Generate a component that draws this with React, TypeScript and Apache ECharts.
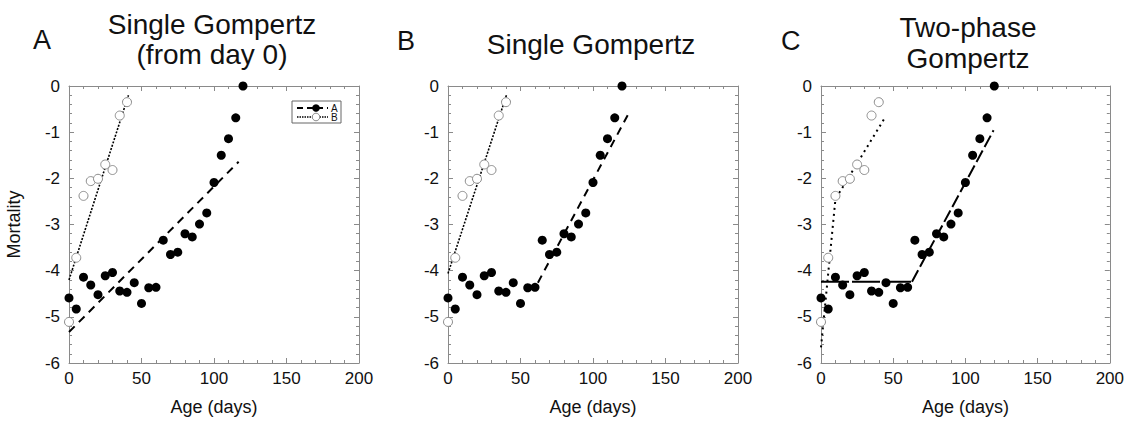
import React, { useEffect, useRef } from "react";
import * as echarts from "echarts";

// ---- data ----
const ages = [0, 5, 10, 15, 20, 25, 30, 35, 40, 45, 50, 55, 60, 65, 70, 75, 80, 85, 90, 95, 100, 105, 110, 115, 120];
const mortA = [-4.59, -4.83, -4.14, -4.31, -4.52, -4.11, -4.04, -4.44, -4.47, -4.26, -4.71, -4.37, -4.36, -3.34, -3.65, -3.6, -3.2, -3.27, -2.99, -2.75, -2.09, -1.5, -1.14, -0.69, 0];
const agesB = [0, 5, 10, 15, 20, 25, 30, 35, 40];
const mortB = [-5.11, -3.72, -2.38, -2.06, -2.01, -1.7, -1.82, -0.64, -0.35];

// fitted lines
const fitPanelA_A = [[0, -5.33], [117, -1.64]];
const fitPanelA_B = [[0, -4.2], [41, -0.2]];
const fitPanelB_A = [[62, -4.26], [125, -0.57]];
const fitPanelB_B = [[0, -4.06], [40.5, -0.18]];
const fitPanelC_A1 = [[0, -4.24], [63, -4.24]];
const fitPanelC_A2 = [[63, -4.24], [119.5, -0.96]];
const fitPanelC_B = [[0, -5.66], [10, -2.45], [44, -0.7]];

const panelLetters = ["A", "B", "C"];
const xTitle = "Age (days)";
const yTitle = "Mortality";

const FONT = "Liberation Sans, Arial, sans-serif";
const AXIS_COLOR = "#8a8a8a";

export default function App() {
  const ref = useRef<HTMLDivElement>(null);
  useEffect(() => {
    if (!ref.current) return;
    const chart = echarts.init(ref.current, undefined, { renderer: "svg" });
    const lefts = [69, 448, 821];
    const grids = lefts.map((l) => ({ left: l, top: 86, width: 290, height: 282, show: false }));
    const xAxes: any[] = [];
    const yAxes: any[] = [];
    lefts.forEach((_, i) => {
      const common = {
        type: "value",
        gridIndex: i,
        min: 0,
        max: 200,
        interval: 50,
        splitLine: { show: false },
        axisLine: { show: true, onZero: false, lineStyle: { color: AXIS_COLOR, width: 1 } },
        axisTick: { show: true, inside: true, length: 5, lineStyle: { color: AXIS_COLOR } },
        minorTick: { show: true, splitNumber: 5, length: 3, lineStyle: { color: AXIS_COLOR } },
      };
      xAxes.push({
        ...common,
        position: "bottom",
        name: xTitle,
        nameLocation: "middle",
        nameGap: 35,
        nameTextStyle: { fontFamily: FONT, fontSize: 18, color: "#111" },
        axisLabel: { fontFamily: FONT, fontSize: 17, color: "#111", margin: 7 },
      });
      xAxes.push({ ...common, position: "top", axisLabel: { show: false } });
      const ycommon = {
        type: "value",
        gridIndex: i,
        min: -6,
        max: 0,
        interval: 1,
        splitLine: { show: false },
        axisLine: { show: true, onZero: false, lineStyle: { color: AXIS_COLOR, width: 1 } },
        axisTick: { show: true, inside: true, length: 5, lineStyle: { color: AXIS_COLOR } },
        minorTick: { show: true, splitNumber: 5, length: 3, lineStyle: { color: AXIS_COLOR } },
      };
      yAxes.push({
        ...ycommon,
        position: "left",
        name: i === 0 ? yTitle : "",
        nameLocation: "middle",
        nameGap: 46,
        nameRotate: 90,
        nameTextStyle: { fontFamily: FONT, fontSize: 18, color: "#111" },
        axisLabel: { fontFamily: FONT, fontSize: 17, color: "#111", margin: 9 },
      });
      yAxes.push({ ...ycommon, position: "right", axisLabel: { show: false } });
    });

    const series: any[] = [];
    const line = (i: number, data: number[][], dash: any, width: number) => ({
      type: "line",
      xAxisIndex: i * 2,
      yAxisIndex: i * 2,
      data,
      symbol: "none",
      silent: true,
      lineStyle: { color: "#000", width, type: dash, opacity: 1 },
      z: 2,
    });
    const fitsA = [[fitPanelA_A], [fitPanelB_A], [fitPanelC_A1, fitPanelC_A2]];
    const fitsB = [fitPanelA_B, fitPanelB_B, fitPanelC_B];
    for (let i = 0; i < 3; i++) {
      if (i === 2) {
        series.push(line(i, fitPanelC_A1, [28, 3], 2));
        series.push(line(i, fitPanelC_A2, [13, 4], 2));
        series.push(line(i, fitsB[i], [2, 4], 2));
      } else {
        series.push(line(i, fitsA[i][0], [8, 6], 2));
        series.push(line(i, fitsB[i], [2, 1.5], 1.6));
      }
      series.push({
        type: "scatter",
        xAxisIndex: i * 2,
        yAxisIndex: i * 2,
        data: agesB.map((a, k) => [a, mortB[k]]),
        symbol: "circle",
        symbolSize: 9,
        itemStyle: { color: "#fff", borderColor: "#8c8c8c", borderWidth: 1, opacity: 1 },
        z: 3,
      });
      series.push({
        type: "scatter",
        xAxisIndex: i * 2,
        yAxisIndex: i * 2,
        data: ages.map((a, k) => [a, mortA[k]]),
        symbol: "circle",
        symbolSize: 9,
        itemStyle: { color: "#000", opacity: 1 },
        z: 4,
      });
    }

    const titleStyle = { fontFamily: FONT, fontSize: 28, fill: "#111", textAlign: "center", textVerticalAlign: "middle" };
    const letterStyle = { fontFamily: FONT, fontSize: 27, fill: "#111", textAlign: "left", textVerticalAlign: "middle" };
    const graphic: any[] = [
      { type: "text", x: 33, y: 40, style: { ...letterStyle, text: panelLetters[0] } },
      { type: "text", x: 397, y: 41, style: { ...letterStyle, text: panelLetters[1] } },
      { type: "text", x: 781, y: 41, style: { ...letterStyle, text: panelLetters[2] } },
      { type: "text", x: 212, y: 24, style: { ...titleStyle, text: "Single Gompertz" } },
      { type: "text", x: 212, y: 54, style: { ...titleStyle, text: "(from day 0)" } },
      { type: "text", x: 591, y: 44, style: { ...titleStyle, text: "Single Gompertz" } },
      { type: "text", x: 968, y: 27, style: { ...titleStyle, text: "Two-phase" } },
      { type: "text", x: 968, y: 58, style: { ...titleStyle, text: "Gompertz" } },
      // legend in panel A
      { type: "rect", shape: { x: 292, y: 101, width: 49, height: 22 }, style: { fill: "#fff", stroke: "#666", lineWidth: 1 }, z: 10 },
      { type: "line", shape: { x1: 297, y1: 108, x2: 328, y2: 108 }, style: { stroke: "#000", lineWidth: 2, lineDash: [6, 4] }, z: 11 },
      { type: "circle", shape: { cx: 316, cy: 108, r: 3.8 }, style: { fill: "#000" }, z: 12 },
      { type: "text", x: 331, y: 108, style: { text: "A", fontFamily: FONT, fontSize: 10, fill: "#111", textVerticalAlign: "middle" }, z: 12 },
      { type: "line", shape: { x1: 297, y1: 117, x2: 328, y2: 117 }, style: { stroke: "#000", lineWidth: 1.4, lineDash: [1.5, 1] }, z: 11 },
      { type: "circle", shape: { cx: 316, cy: 117, r: 3.8 }, style: { fill: "#fff", stroke: "#8c8c8c", lineWidth: 1 }, z: 12 },
      { type: "text", x: 331, y: 117, style: { text: "B", fontFamily: FONT, fontSize: 10, fill: "#111", textVerticalAlign: "middle" }, z: 12 },
    ];

    chart.setOption({
      animation: false,
      backgroundColor: "#fff",
      grid: grids,
      xAxis: xAxes,
      yAxis: yAxes,
      series,
      graphic,
    });
    return () => chart.dispose();
  }, []);
  return <div ref={ref} style={{ width: 1127, height: 421, position: "absolute", left: 0, top: 0 }} />;
}
